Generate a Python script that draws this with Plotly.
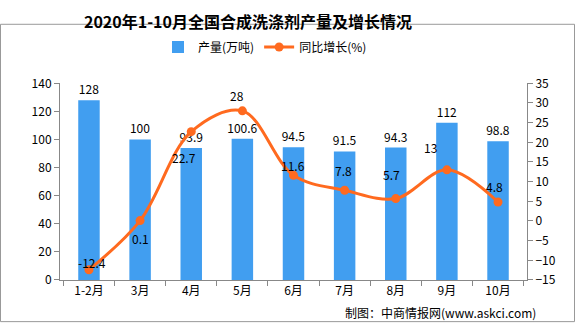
import plotly.graph_objects as go

categories = ["1-2月", "3月", "4月", "5月", "6月", "7月", "8月", "9月", "10月"]
output_vals = [128, 100, 93.9, 100.6, 94.5, 91.5, 94.3, 112, 98.8]
growth_vals = [-12.4, 0.1, 22.7, 28, 11.6, 7.8, 5.7, 13, 4.8]
# label offsets (pixels) for the growth labels, relative to each point
label_dx = [3, 0, -7, -5, -1, -1, -4, -16, -4]
label_dy = [7, -18, -26, 15, 10, 20, 24, 22, 16]

BAR = "#419EF0"
LINE = "#FF6A1F"
FONT = "Noto Sans CJK SC"

fig = go.Figure()
fig.add_trace(go.Bar(
    x=categories, y=output_vals, name="产量(万吨)",
    marker=dict(color=BAR, line=dict(width=0)), width=0.42,
    text=[f"{v:g}" for v in output_vals], textposition="outside", constraintext="none",
    textfont=dict(size=12, color="#000", family=FONT), cliponaxis=False,
))
fig.add_trace(go.Scatter(
    x=categories, y=growth_vals, name="同比增长(%)", yaxis="y2",
    mode="lines+markers", line=dict(color=LINE, width=3, shape="spline", smoothing=1.0),
    marker=dict(color=LINE, size=9), cliponaxis=False,
))

W, H = 575, 326
ml, mr, mt, mb = 60, 48, 65, 46
pw, ph = W - ml - mr, H - mt - mb

annotations = [dict(text=f"{v:g}", x=c, y=v, xref="x", yref="y2", showarrow=False,
                    xshift=dx, yshift=dy, font=dict(size=12, color="#000", family=FONT))
               for c, v, dx, dy in zip(categories, growth_vals, label_dx, label_dy)]
annotations.append(dict(text="制图：中商情报网(www.askci.com)", xref="paper", yref="paper",
                        x=(538 - ml) / pw, y=-(315 - mt - ph) / ph, xanchor="right", yanchor="middle",
                        showarrow=False, font=dict(size=12, color="#000", family=FONT)))

fig.update_layout(
    width=W, height=H,
    margin=dict(l=ml, r=mr, t=mt, b=mb),
    paper_bgcolor="white", plot_bgcolor="white",
    font=dict(family=FONT, size=12, color="#000"),
    title=dict(text="<b>2020年1-10月全国合成洗涤剂产量及增长情况</b>", x=248 / W, xanchor="center",
               y=1 - 22 / H, yanchor="middle", font=dict(size=16, color="#000", family=FONT)),
    legend=dict(orientation="h", x=265 / W, xanchor="center", y=1 - 47 / H, yanchor="middle",
                xref="container", yref="container", font=dict(size=12, family=FONT),
                itemwidth=30, tracegroupgap=0),
    showlegend=True,
    xaxis=dict(showline=True, linecolor="#888", linewidth=1, ticks="outside", tickson="boundaries",
               ticklen=5, tickcolor="#888", showgrid=False, tickfont=dict(size=12)),
    yaxis=dict(range=[0, 140], dtick=20, showline=True, linecolor="#888", linewidth=1,
               ticks="outside", ticklen=5, tickcolor="#888", showgrid=False, zeroline=False,
               tickfont=dict(size=12)),
    yaxis2=dict(range=[-15, 35], dtick=5, overlaying="y", side="right", showline=True,
                linecolor="#888", linewidth=1, ticks="outside", ticklen=5, tickcolor="#888",
                showgrid=False, zeroline=False, tickfont=dict(size=12)),
    annotations=annotations,
    shapes=[dict(type="rect", xref="paper", yref="paper",
                 x0=-(ml - 0.5) / pw, x1=1 + (mr - 0.5) / pw,
                 y0=-(mb - 0.5) / ph, y1=1 + (mt - 0.5) / ph,
                 line=dict(color="#999", width=1), layer="below")],
)

fig.write_html("out.html")
